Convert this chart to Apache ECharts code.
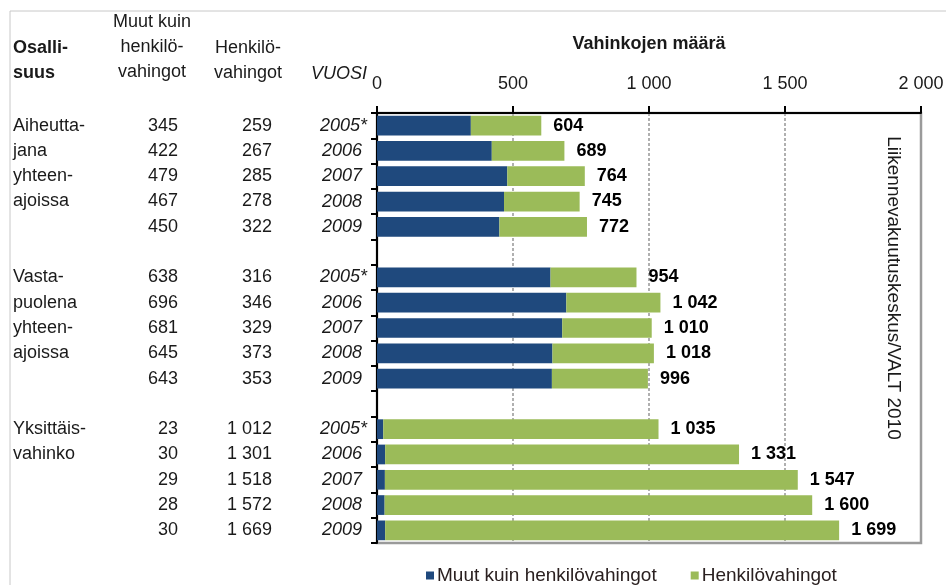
<!DOCTYPE html>
<html lang="fi">
<head>
<meta charset="UTF-8">
<title>Vahinkojen määrä</title>
<script src="https://cdn.jsdelivr.net/npm/echarts@6/dist/echarts.min.js"></script>
<style>
  html, body { margin: 0; padding: 0; background: #fff; }
  #chart { width: 946px; height: 585px; }
</style>
</head>
<body>
<div id="chart"></div>
<script>
// osallisuus-ryhmät, rivi kerrallaan
var groupLines = [
    ['Aiheutta-', 'jana', 'yhteen-', 'ajoissa', ''],
    ['Vasta-', 'puolena', 'yhteen-', 'ajoissa', ''],
    ['Yksittäis-', 'vahinko', '', '', '']
];
var years = ['2005*', '2006', '2007', '2008', '2009'];
var muut = [
    [345, 422, 479, 467, 450],
    [638, 696, 681, 645, 643],
    [23, 30, 29, 28, 30]
];
var henk = [
    [259, 267, 285, 278, 322],
    [316, 346, 329, 373, 353],
    [1012, 1301, 1518, 1572, 1669]
];
var xTicks = [0, 500, 1000, 1500, 2000];

var FONT = '"Liberation Sans", Arial, sans-serif';
var TXT = '#1a1a1a';

function fmt(n) {
    return String(n).replace(/\B(?=(\d{3})+(?!\d))/g, ' ');
}

// rivit: 5 vuotta per ryhmä + tyhjä väli
var rowYear = [], rowGroup = [], rowMuut = [], rowHenk = [], rowMuutTxt = [], rowHenkTxt = [], rowTotal = [];
for (var g = 0; g < groupLines.length; g++) {
    for (var i = 0; i < years.length; i++) {
        rowYear.push(years[i]);
        rowGroup.push(groupLines[g][i]);
        rowMuut.push(muut[g][i]);
        rowHenk.push(henk[g][i]);
        rowMuutTxt.push(fmt(muut[g][i]));
        rowHenkTxt.push(fmt(henk[g][i]));
        rowTotal.push(muut[g][i] + henk[g][i]);
    }
    if (g < groupLines.length - 1) {
        rowYear.push(''); rowGroup.push(''); rowMuut.push(null); rowHenk.push(null);
        rowMuutTxt.push(''); rowHenkTxt.push(''); rowTotal.push(null);
    }
}

function sideAxis(data, offset, align) {
    return {
        type: 'category', position: 'left', inverse: true, data: data, offset: offset,
        axisLine: {show: false}, axisTick: {show: false}, splitLine: {show: false},
        axisLabel: {
            interval: 0, margin: 0, align: align || 'right',
            fontFamily: FONT, fontSize: 18, color: TXT
        }
    };
}

var chart = echarts.init(document.getElementById('chart'), null, {renderer: 'canvas'});
var option = {
    animation: false,
    backgroundColor: '#fff',
    grid: {
        left: 377, top: 113, width: 544, height: 430,
        outerBoundsMode: 'none', containLabel: false,
        show: true, borderColor: '#9a9a9a', borderWidth: 2.5
    },
    xAxis: {
        type: 'value', position: 'top', min: xTicks[0], max: xTicks[xTicks.length - 1], interval: 500,
        axisLine: {show: true, lineStyle: {color: '#000', width: 2}},
        axisTick: {show: true, length: 7, lineStyle: {color: '#000', width: 2}},
        axisLabel: {
            margin: 20, fontFamily: FONT, fontSize: 18, color: TXT,
            formatter: function (v) { return fmt(v); }
        },
        splitLine: {
            show: true, showMinLine: false, showMaxLine: false,
            lineStyle: {color: '#b0b0b0', width: 2, type: [3, 2]}
        }
    },
    yAxis: [
        {
            type: 'category', position: 'left', inverse: true, data: rowYear,
            axisLine: {show: true, lineStyle: {color: '#000', width: 2}},
            axisTick: {show: true, length: 6, lineStyle: {color: '#000', width: 2}},
            axisLabel: {
                interval: 0, margin: 10, fontFamily: FONT, fontSize: 18, fontStyle: 'italic', color: TXT,
                formatter: function (v) {
                    if (!v) return '';
                    if (v.charAt(v.length - 1) === '*') return '{y|' + v + '}';
                    return '{n|' + v + '}';
                },
                rich: {
                    y: {fontFamily: FONT, fontSize: 18, fontStyle: 'italic', color: TXT},
                    n: {fontFamily: FONT, fontSize: 18, fontStyle: 'italic', color: TXT, padding: [0, 5, 0, 0]}
                }
            }
        },
        sideAxis(rowHenkTxt, 105),
        sideAxis(rowMuutTxt, 199),
        sideAxis(rowGroup, 364, 'left')
    ],
    legend: {
        left: 421, top: 561, itemWidth: 8, itemHeight: 8, itemGap: 34, icon: 'rect',
        textStyle: {fontFamily: FONT, fontSize: 19, color: '#2a2020', padding: [0, 0, 0, -2]},
        data: ['Muut kuin henkilövahingot', 'Henkilövahingot']
    },
    series: [
        {
            name: 'Muut kuin henkilövahingot', type: 'bar', stack: 'v',
            barCategoryGap: '22%', yAxisIndex: 0,
            itemStyle: {color: '#1F497D'},
            data: rowMuut
        },
        {
            name: 'Henkilövahingot', type: 'bar', stack: 'v',
            barCategoryGap: '22%', yAxisIndex: 0,
            itemStyle: {color: '#9BBB59'},
            label: {
                show: true, position: 'right', distance: 12,
                fontFamily: FONT, fontSize: 18, fontWeight: 'bold', color: '#000',
                formatter: function (p) {
                    var t = rowTotal[p.dataIndex];
                    return t == null ? '' : fmt(t);
                }
            },
            data: rowHenk
        }
    ],
    graphic: [
        {type: 'line', shape: {x1: 10, y1: 11, x2: 946, y2: 11}, style: {stroke: '#c8c8c8', lineWidth: 1}},
        {type: 'line', shape: {x1: 10, y1: 11, x2: 10, y2: 585}, style: {stroke: '#c8c8c8', lineWidth: 1}},
        {type: 'text', x: 13, y: 36, style: {text: 'Osalli-\nsuus', font: 'bold 18px ' + FONT, fill: TXT, lineHeight: 25, align: 'left', verticalAlign: 'top'}},
        {type: 'text', x: 152, y: 10, style: {text: 'Muut kuin\nhenkilö-\nvahingot', font: '18px ' + FONT, fill: TXT, lineHeight: 25, align: 'center', verticalAlign: 'top'}},
        {type: 'text', x: 248, y: 36, style: {text: 'Henkilö-\nvahingot', font: '18px ' + FONT, fill: TXT, lineHeight: 25, align: 'center', verticalAlign: 'top'}},
        {type: 'text', x: 367, y: 74, style: {text: 'VUOSI', font: 'italic 18px ' + FONT, fill: TXT, align: 'right', verticalAlign: 'middle'}},
        {type: 'text', x: 649, y: 44, style: {text: 'Vahinkojen määrä', font: 'bold 18px ' + FONT, fill: TXT, align: 'center', verticalAlign: 'middle'}},
        {type: 'text', x: 893, y: 288, rotation: -Math.PI / 2, style: {text: 'Liikennevakuutuskeskus/VALT 2010', font: '19px ' + FONT, fill: TXT, align: 'center', verticalAlign: 'middle'}}
    ]
};
chart.setOption(option);
</script>
</body>
</html>
